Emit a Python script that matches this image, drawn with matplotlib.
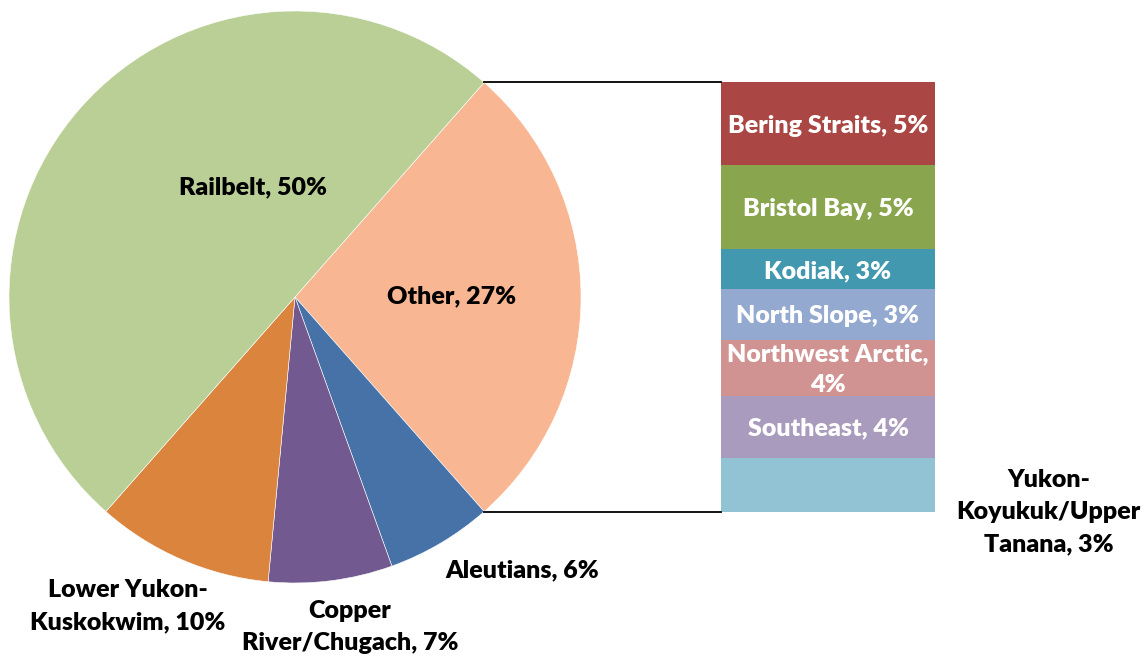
import numpy as np
import matplotlib
matplotlib.use("Agg")
import matplotlib.pyplot as plt

# Pie slices (starting with "Other", clockwise)
pie_names = ["Other", "Aleutians", "Copper\nRiver/Chugach", "Lower Yukon-\nKuskokwim", "Railbelt"]
pie_values = [27, 6, 7, 10, 50]
pie_colors = ["#F8B692", "#4672A8", "#725A90", "#DA843E", "#BACF96"]
pie_labels = ["Other, 27%", "Aleutians, 6%", "Copper\nRiver/Chugach, 7%",
              "Lower Yukon-\nKuskokwim, 10%", "Railbelt, 50%"]

# Breakdown of "Other" (top to bottom)
bar_names = ["Bering Straits", "Bristol Bay", "Kodiak", "North Slope",
             "Northwest Arctic", "Southeast", "Yukon-Koyukuk/Upper Tanana"]
bar_values = [5.2, 5.3, 2.5, 3.2, 3.5, 3.9, 3.4]
bar_labels = ["Bering Straits, 5%", "Bristol Bay, 5%", "Kodiak, 3%", "North Slope, 3%",
              "Northwest Arctic,\n4%", "Southeast, 4%", "Yukon-\nKoyukuk/Upper\nTanana, 3%"]
bar_colors = ["#AA4643", "#89A54E", "#4198AF", "#93A9CF", "#D19392", "#A99BBD", "#92C3D4"]

W, H = 1144, 658
fig = plt.figure(figsize=(W / 100, H / 100), dpi=100)
ax = fig.add_axes([0, 0, 1, 1])

font = dict(family=["Lato", "DejaVu Sans"], fontweight="heavy", fontsize=18)

# pie
cx, cy, r = 295, H - 297, 286
start = pie_values[0] * 360 / 100 / 2
wedges, _ = ax.pie(pie_values, colors=pie_colors, startangle=start, counterclock=False,
                   center=(cx, cy), radius=r, frame=True,
                   wedgeprops=dict(linewidth=0.4, edgecolor="white"))
ax.set_xlim(0, W)
ax.set_ylim(0, H)
ax.set_aspect("equal")
ax.axis("off")

# stacked bar for "Other", same height as the pie slice's chord
bx, bw = 828, 214
half = r * np.sin(np.radians(start))
scale = 2 * half / sum(bar_values)
bottom = cy - half
tops = []
y = bottom
for v, c in zip(bar_values[::-1], bar_colors[::-1]):
    ax.bar(bx, v * scale, width=bw, bottom=y, color=c, linewidth=0)
    tops.append((y, v * scale))
    y += v * scale
tops = tops[::-1]

# connector lines
ex = cx + r * np.cos(np.radians(start))
ax.plot([ex, bx - bw / 2], [cy + half, cy + half], color="black", lw=1.3)
ax.plot([ex, bx - bw / 2], [cy - half, cy - half], color="black", lw=1.3)

# bar labels
for i, (lab, (y0, h)) in enumerate(zip(bar_labels, tops)):
    if i == len(bar_labels) - 1:
        ax.text(1141, H - 512, lab, ha="right", va="center", color="black",
                multialignment="center", linespacing=1.55, **font)
    elif i == 4:
        ax.text(bx, y0 + h / 2 - 2, lab, ha="center", va="center", color="white",
                linespacing=1.5, **font)
    else:
        ax.text(bx, y0 + h / 2 - 2, lab, ha="center", va="center", color="white", **font)

# pie labels
label_pos = [(452, 296), (522, 570), (350, 627), (128, 606), (253, 187)]
for lab, (lx, ly) in zip(pie_labels, label_pos):
    ax.text(lx, H - ly, lab, ha="center", va="center", color="black",
            linespacing=1.55, **font)

fig.savefig("out.png", dpi=100)
